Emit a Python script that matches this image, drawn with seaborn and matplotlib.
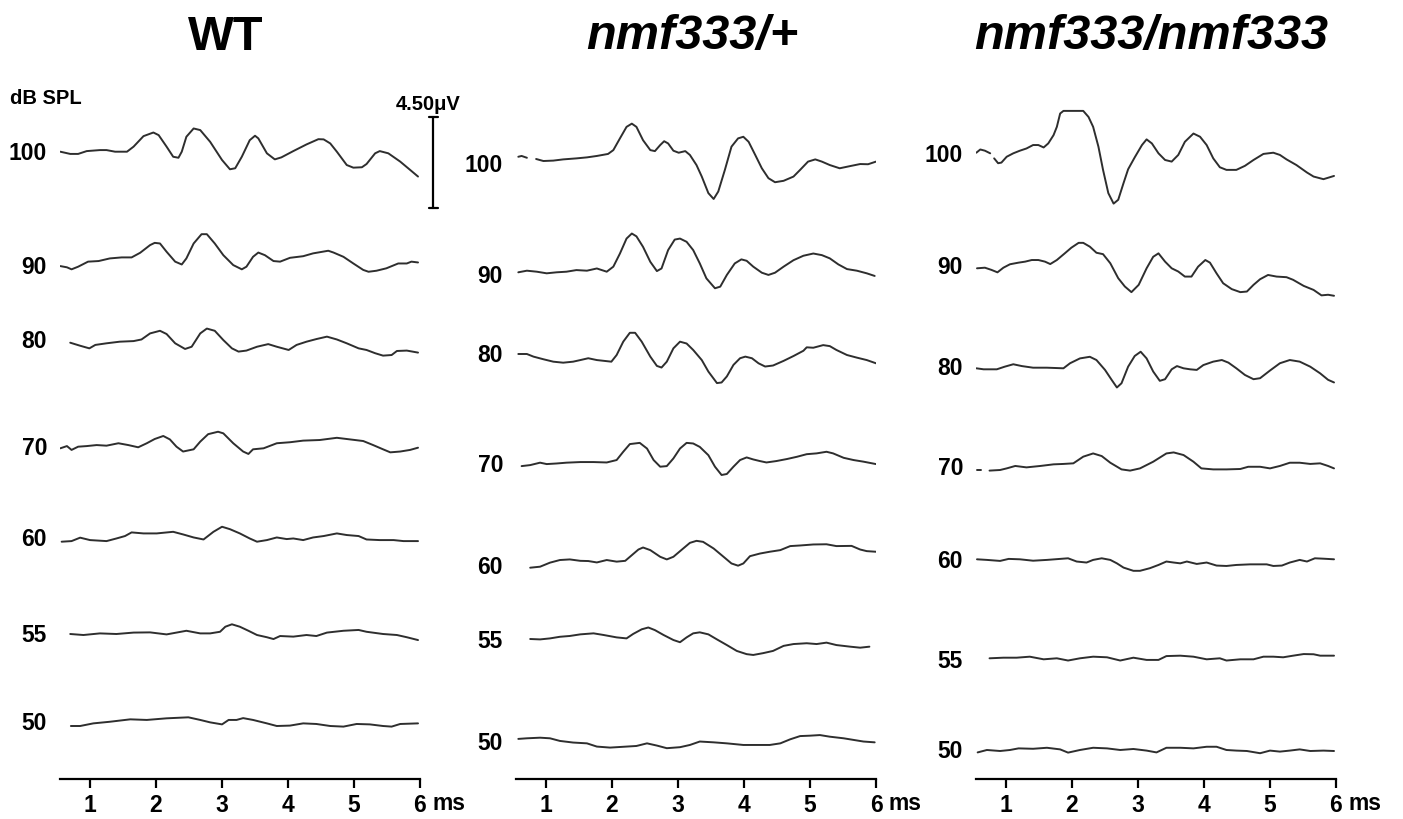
import numpy as np
import pandas as pd
import matplotlib
matplotlib.use("Agg")
import matplotlib.pyplot as plt
import seaborn as sns

nan = np.nan

# ------------------------------------------------------------------ data
levels = [100, 90, 80, 70, 60, 55, 50]            # dB SPL
genotypes = ["WT", "nmf333/+", "nmf333/nmf333"]
ticks_ms = [1, 2, 3, 4, 5, 6]
scale_uv = 4.50                                   # scale bar (µV)

# WT  (time in ms, amplitude in µV relative to trace baseline)
t_wt_100 = [0.55,0.70,0.82,0.95,1.15,1.25,1.38,1.56,1.66,1.81,1.96,2.04,2.16,2.26,2.34,2.39,2.46,2.57,2.67,2.82,3.00,3.12,3.20,3.30,3.42,3.50,3.55,3.68,3.80,3.90,4.08,4.28,4.46,4.54,4.64,4.74,4.89,4.99,5.12,5.19,5.32,5.39,5.52,5.70,5.85,5.97]
uv_wt_100 = [0,-0.11,-0.11,0.03,0.08,0.08,0,0,0.25,0.77,0.95,0.82,0.25,-0.25,-0.30,0,0.74,1.15,1.07,0.49,-0.41,-0.87,-0.82,-0.25,0.57,0.79,0.66,-0.08,-0.38,-0.28,0.03,0.36,0.62,0.61,0.41,0,-0.66,-0.79,-0.77,-0.61,-0.08,0.03,-0.08,-0.49,-0.90,-1.23]
t_wt_90 = [0.55,0.65,0.72,0.82,0.97,1.13,1.30,1.48,1.63,1.76,1.91,1.98,2.06,2.16,2.29,2.39,2.46,2.57,2.69,2.77,2.89,3.02,3.17,3.30,3.37,3.47,3.55,3.65,3.78,3.88,4.03,4.23,4.38,4.61,4.69,4.84,4.99,5.14,5.22,5.34,5.49,5.67,5.80,5.87,5.97]
uv_wt_90 = [0.03,-0.03,-0.13,0,0.25,0.28,0.41,0.46,0.46,0.69,1.07,1.18,1.15,0.74,0.25,0.11,0.41,1.15,1.61,1.61,1.15,0.57,0.08,-0.13,0,0.49,0.70,0.57,0.28,0.25,0.44,0.52,0.66,0.79,0.70,0.49,0.16,-0.16,-0.25,-0.20,-0.08,0.16,0.16,0.25,0.21]
t_wt_80 = [0.70,0.85,0.99,1.08,1.25,1.45,1.66,1.78,1.91,2.06,2.16,2.29,2.44,2.54,2.67,2.77,2.89,3.02,3.15,3.25,3.37,3.53,3.70,3.83,4.01,4.13,4.28,4.43,4.59,4.74,4.89,5.07,5.19,5.32,5.44,5.57,5.65,5.80,5.97]
uv_wt_80 = [0,-0.15,-0.28,-0.11,-0.03,0.05,0.08,0.16,0.46,0.59,0.43,-0.03,-0.31,-0.20,0.46,0.70,0.59,0.13,-0.28,-0.44,-0.39,-0.20,-0.07,-0.20,-0.36,-0.11,0.05,0.18,0.30,0.16,-0.03,-0.28,-0.36,-0.52,-0.64,-0.61,-0.41,-0.39,-0.49]
t_wt_70 = [0.55,0.65,0.72,0.82,0.95,1.10,1.25,1.43,1.58,1.73,1.86,1.98,2.11,2.21,2.31,2.41,2.57,2.67,2.79,2.94,3.02,3.17,3.32,3.40,3.47,3.63,3.83,4.03,4.23,4.48,4.74,4.94,5.14,5.29,5.44,5.55,5.70,5.85,5.97]
uv_wt_70 = [0,0.11,-0.08,0.08,0.11,0.16,0.13,0.25,0.16,0.05,0.25,0.46,0.61,0.44,0.08,-0.16,-0.05,0.33,0.70,0.82,0.74,0.25,-0.16,-0.28,-0.05,0,0.25,0.30,0.38,0.41,0.52,0.44,0.36,0.16,-0.05,-0.20,-0.16,-0.08,0.03]
t_wt_60 = [0.57,0.72,0.85,1.00,1.25,1.40,1.53,1.63,1.81,2.01,2.26,2.41,2.57,2.72,2.87,3.00,3.12,3.27,3.42,3.53,3.68,3.83,3.98,4.08,4.23,4.38,4.54,4.74,4.89,5.07,5.19,5.39,5.60,5.75,5.97]
uv_wt_60 = [0,0.03,0.20,0.08,0.03,0.16,0.28,0.46,0.41,0.41,0.49,0.36,0.21,0.11,0.49,0.74,0.62,0.41,0.16,0,0.08,0.21,0.13,0.16,0.08,0.21,0.28,0.41,0.33,0.28,0.11,0.08,0.08,0.03,0.03]
t_wt_55 = [0.70,0.90,1.15,1.40,1.66,1.91,2.16,2.46,2.67,2.82,2.97,3.05,3.15,3.27,3.40,3.53,3.68,3.78,3.88,4.08,4.28,4.43,4.59,4.84,5.07,5.19,5.44,5.65,5.80,5.97]
uv_wt_55 = [0,-0.05,0.03,0,0.07,0.08,-0.02,0.16,0.03,0.03,0.11,0.36,0.48,0.36,0.16,-0.05,-0.16,-0.25,-0.10,-0.13,-0.05,-0.10,0.07,0.16,0.20,0.11,0,-0.05,-0.16,-0.30]
t_wt_50 = [0.71,0.85,1.05,1.30,1.61,1.86,2.16,2.49,2.67,2.82,3.00,3.10,3.22,3.32,3.47,3.68,3.83,4.03,4.23,4.43,4.64,4.84,5.04,5.24,5.44,5.57,5.70,5.97]
uv_wt_50 = [0,0,0.13,0.21,0.33,0.30,0.38,0.43,0.30,0.18,0.08,0.30,0.30,0.39,0.30,0.13,0,0.02,0.13,0.10,0,-0.03,0.10,0.08,0,-0.03,0.10,0.13]

# nmf333/+
t_het_100 = [0.58,0.63,0.71,nan,0.85,0.96,1.11,1.26,1.46,1.62,1.77,1.94,2.02,2.12,2.22,2.30,2.37,2.47,2.58,2.65,2.73,2.79,2.85,2.93,3.01,3.11,3.18,3.28,3.36,3.46,3.54,3.61,3.71,3.81,3.91,3.99,4.07,4.17,4.27,4.37,4.47,4.60,4.75,4.85,4.97,5.08,5.18,5.30,5.45,5.61,5.76,5.88,6.00]
uv_het_100 = [0.16,0.20,0.11,nan,0.05,-0.05,-0.03,0.03,0.08,0.13,0.20,0.30,0.49,1.07,1.64,1.80,1.64,0.98,0.49,0.44,0.74,0.93,0.82,0.46,0.36,0.44,0.25,-0.25,-0.82,-1.64,-1.93,-1.56,-0.49,0.66,1.07,1.15,0.90,0.25,-0.41,-0.90,-1.10,-1.03,-0.82,-0.49,-0.08,0.03,-0.08,-0.25,-0.41,-0.30,-0.20,-0.21,-0.08]
t_het_90 = [0.58,0.71,0.86,1.01,1.16,1.31,1.46,1.62,1.77,1.92,2.02,2.12,2.22,2.30,2.37,2.47,2.58,2.68,2.75,2.85,2.95,3.03,3.13,3.23,3.33,3.43,3.56,3.64,3.74,3.86,3.96,4.04,4.14,4.27,4.37,4.47,4.60,4.75,4.90,5.05,5.18,5.30,5.43,5.56,5.71,5.86,5.98]
uv_het_90 = [-0.03,0.05,0,-0.08,-0.03,0,0.08,0.05,0.16,0,0.25,0.90,1.64,1.89,1.75,1.23,0.49,0.03,0.16,1.07,1.59,1.64,1.48,1.07,0.41,-0.33,-0.82,-0.74,-0.16,0.41,0.61,0.54,0.25,-0.05,-0.16,-0.05,0.25,0.57,0.79,0.90,0.82,0.66,0.36,0.13,0.05,-0.08,-0.21]
t_het_80 = [0.58,0.71,0.81,0.96,1.11,1.26,1.41,1.52,1.64,1.77,1.99,2.07,2.17,2.27,2.35,2.45,2.58,2.68,2.75,2.83,2.93,3.03,3.13,3.23,3.36,3.46,3.59,3.66,3.74,3.84,3.94,4.02,4.12,4.22,4.32,4.44,4.60,4.75,4.90,4.95,5.05,5.20,5.30,5.40,5.56,5.71,5.86,6.00]
uv_het_80 = [0,0,-0.13,-0.26,-0.38,-0.43,-0.38,-0.30,-0.21,-0.30,-0.38,-0.05,0.61,1.05,1.05,0.61,-0.13,-0.59,-0.67,-0.38,0.28,0.61,0.52,0.20,-0.30,-0.87,-1.44,-1.41,-1.11,-0.54,-0.21,-0.13,-0.21,-0.46,-0.62,-0.57,-0.34,-0.10,0.16,0.33,0.31,0.44,0.39,0.20,-0.05,-0.18,-0.30,-0.46]
t_het_70 = [0.63,0.76,0.91,1.01,1.16,1.31,1.52,1.72,1.92,2.07,2.17,2.27,2.42,2.53,2.63,2.73,2.83,2.93,3.03,3.13,3.23,3.33,3.46,3.56,3.66,3.74,3.84,3.94,4.04,4.14,4.24,4.34,4.49,4.65,4.80,4.95,5.10,5.25,5.35,5.51,5.66,5.81,6.00]
uv_het_70 = [-0.02,0.03,0.15,0.08,0.11,0.15,0.18,0.18,0.16,0.28,0.69,1.07,1.13,0.85,0.28,-0.05,-0.02,0.36,0.85,1.13,1.10,0.93,0.52,-0.05,-0.46,-0.41,-0.05,0.28,0.41,0.31,0.23,0.16,0.23,0.33,0.44,0.57,0.61,0.69,0.61,0.39,0.28,0.20,0.08]
t_het_60 = [0.76,0.91,1.06,1.21,1.36,1.52,1.64,1.77,1.92,2.07,2.20,2.30,2.40,2.47,2.58,2.73,2.83,2.93,3.06,3.18,3.28,3.38,3.54,3.69,3.81,3.91,3.99,4.09,4.24,4.39,4.55,4.70,4.85,5.05,5.25,5.40,5.63,5.76,5.86,6.00]
uv_het_60 = [0,0.05,0.25,0.38,0.41,0.34,0.33,0.26,0.38,0.30,0.34,0.62,0.90,1.00,0.87,0.54,0.41,0.54,0.90,1.23,1.33,1.28,0.95,0.54,0.21,0.10,0.21,0.57,0.70,0.79,0.87,1.07,1.10,1.15,1.16,1.07,1.08,0.90,0.82,0.79]
t_het_55 = [0.76,0.91,1.06,1.21,1.36,1.52,1.72,1.87,2.07,2.22,2.32,2.45,2.55,2.65,2.78,2.93,3.03,3.13,3.23,3.33,3.46,3.59,3.74,3.89,4.04,4.14,4.29,4.44,4.60,4.75,4.95,5.10,5.25,5.40,5.61,5.76,5.90]
uv_het_55 = [0,-0.02,0.03,0.11,0.15,0.23,0.28,0.20,0.08,0.03,0.25,0.48,0.57,0.44,0.20,-0.05,-0.16,0.08,0.28,0.33,0.23,-0.02,-0.30,-0.59,-0.75,-0.79,-0.70,-0.59,-0.34,-0.25,-0.21,-0.25,-0.18,-0.30,-0.38,-0.43,-0.38]
t_het_50 = [0.58,0.71,0.91,1.06,1.21,1.41,1.62,1.77,1.97,2.22,2.37,2.53,2.68,2.83,3.03,3.18,3.33,3.54,3.74,3.99,4.19,4.39,4.55,4.70,4.85,5.00,5.15,5.30,5.51,5.66,5.81,5.98]
uv_het_50 = [-0.03,0,0.03,0,-0.13,-0.21,-0.25,-0.41,-0.46,-0.41,-0.38,-0.25,-0.36,-0.49,-0.44,-0.33,-0.16,-0.20,-0.25,-0.33,-0.33,-0.33,-0.25,-0.05,0.11,0.13,0.16,0.08,0,-0.08,-0.16,-0.20]

# nmf333/nmf333
t_hom_100 = [0.55,0.61,0.68,0.76,nan,0.82,0.88,0.93,1.01,1.11,1.21,1.31,1.41,1.49,1.57,1.64,1.72,1.77,1.82,1.87,2.02,2.17,2.25,2.32,2.40,2.47,2.55,2.63,2.70,2.78,2.85,2.95,3.06,3.13,3.21,3.31,3.41,3.51,3.61,3.71,3.84,3.94,4.04,4.14,4.24,4.34,4.49,4.62,4.75,4.90,5.05,5.15,5.25,5.40,5.56,5.66,5.81,5.91,5.97]
uv_hom_100 = [-0.05,0.11,0.05,-0.08,nan,-0.33,-0.57,-0.54,-0.25,-0.08,0.05,0.16,0.33,0.33,0.21,0.41,0.82,1.23,1.89,2.02,2.02,2.02,1.72,1.23,0.25,-0.90,-2.05,-2.57,-2.38,-1.56,-0.87,-0.28,0.33,0.61,0.41,-0.08,-0.41,-0.49,-0.16,0.49,0.90,0.74,0.33,-0.33,-0.77,-0.90,-0.90,-0.70,-0.41,-0.11,-0.05,-0.16,-0.38,-0.66,-1.03,-1.23,-1.36,-1.26,-1.20]
t_hom_90 = [0.56,0.68,0.78,0.87,0.96,1.06,1.19,1.29,1.39,1.49,1.59,1.67,1.77,1.89,1.99,2.10,2.17,2.27,2.37,2.47,2.58,2.70,2.80,2.90,3.01,3.13,3.23,3.31,3.41,3.51,3.61,3.71,3.81,3.91,4.02,4.09,4.19,4.29,4.42,4.55,4.65,4.75,4.85,4.97,5.10,5.25,5.35,5.51,5.66,5.78,5.88,5.97]
uv_hom_90 = [0,0.03,-0.08,-0.20,0.03,0.20,0.28,0.33,0.41,0.41,0.33,0.21,0.41,0.74,1.02,1.26,1.26,1.07,0.77,0.70,0.25,-0.49,-0.90,-1.18,-0.82,0,0.57,0.74,0.33,0,-0.16,-0.41,-0.41,0.08,0.41,0.28,-0.25,-0.74,-1.03,-1.18,-1.15,-0.82,-0.54,-0.33,-0.41,-0.44,-0.57,-0.87,-1.07,-1.34,-1.31,-1.36]
t_hom_80 = [0.55,0.66,0.86,0.98,1.11,1.24,1.41,1.62,1.87,1.97,2.12,2.27,2.37,2.50,2.60,2.68,2.75,2.85,2.95,3.04,3.13,3.23,3.33,3.41,3.51,3.59,3.69,3.79,3.89,3.99,4.14,4.27,4.37,4.49,4.62,4.75,4.85,5.00,5.15,5.30,5.45,5.61,5.76,5.88,5.97]
uv_hom_80 = [0,-0.05,-0.05,0.08,0.20,0.11,0.03,0.03,0,0.25,0.49,0.57,0.41,-0.08,-0.57,-0.95,-0.74,0.08,0.61,0.82,0.49,-0.16,-0.62,-0.54,-0.05,0.11,0,-0.05,-0.08,0.16,0.33,0.41,0.28,0,-0.33,-0.54,-0.49,-0.11,0.25,0.41,0.33,0.08,-0.25,-0.57,-0.70]
t_hom_70 = [0.56,0.62,nan,0.75,0.91,1.01,1.14,1.31,1.52,1.72,1.87,2.02,2.17,2.32,2.45,2.58,2.75,2.88,3.03,3.23,3.43,3.54,3.69,3.84,3.96,4.14,4.34,4.55,4.67,4.85,5.00,5.15,5.30,5.45,5.61,5.76,5.88,5.97]
uv_hom_70 = [0,0,nan,-0.03,0,0.08,0.20,0.13,0.20,0.28,0.30,0.33,0.66,0.82,0.69,0.36,0.03,-0.03,0.08,0.41,0.82,0.87,0.74,0.41,0.08,0.03,0.03,0.05,0.16,0.16,0.08,0.20,0.36,0.36,0.30,0.33,0.20,0.08]
t_hom_60 = [0.56,0.71,0.91,1.04,1.21,1.41,1.62,1.82,1.94,2.07,2.22,2.32,2.45,2.58,2.68,2.78,2.93,3.03,3.18,3.31,3.43,3.54,3.64,3.74,3.89,4.04,4.19,4.34,4.49,4.70,4.95,5.05,5.18,5.30,5.45,5.56,5.68,5.81,5.97]
uv_hom_60 = [0,-0.03,-0.08,0.02,0,-0.07,-0.03,0.02,0.05,-0.11,-0.16,-0.03,0.05,-0.03,-0.20,-0.41,-0.57,-0.57,-0.44,-0.28,-0.11,-0.16,-0.20,-0.11,-0.23,-0.16,-0.31,-0.33,-0.28,-0.25,-0.25,-0.33,-0.31,-0.16,-0.03,-0.11,0.05,0.03,0]
t_hom_55 = [0.75,0.96,1.16,1.36,1.57,1.77,1.94,2.12,2.32,2.53,2.73,2.93,3.13,3.31,3.43,3.64,3.84,4.04,4.24,4.34,4.55,4.75,4.90,5.05,5.20,5.35,5.51,5.66,5.76,5.97]
uv_hom_55 = [0,0.03,0.03,0.08,-0.05,0,-0.11,0,0.08,0.05,-0.11,0.03,-0.08,-0.08,0.11,0.13,0.08,-0.05,0,-0.11,-0.05,-0.05,0.08,0.08,0.05,0.13,0.21,0.20,0.13,0.13]
t_hom_50 = [0.57,0.71,0.91,1.06,1.19,1.41,1.62,1.82,1.94,2.12,2.32,2.53,2.73,2.93,3.13,3.28,3.43,3.64,3.84,4.04,4.19,4.34,4.49,4.65,4.85,5.00,5.15,5.30,5.45,5.61,5.81,5.97]
uv_hom_50 = [-0.07,0.05,0,0.05,0.13,0.11,0.16,0.08,-0.08,0.05,0.16,0.13,0.05,0.10,0.02,-0.07,0.16,0.16,0.13,0.21,0.21,0.05,0.02,0,-0.11,0.02,-0.03,0.02,0.08,0,0.02,0]

traces = {
    "WT": [(t_wt_100, uv_wt_100), (t_wt_90, uv_wt_90), (t_wt_80, uv_wt_80), (t_wt_70, uv_wt_70),
           (t_wt_60, uv_wt_60), (t_wt_55, uv_wt_55), (t_wt_50, uv_wt_50)],
    "nmf333/+": [(t_het_100, uv_het_100), (t_het_90, uv_het_90), (t_het_80, uv_het_80), (t_het_70, uv_het_70),
                 (t_het_60, uv_het_60), (t_het_55, uv_het_55), (t_het_50, uv_het_50)],
    "nmf333/nmf333": [(t_hom_100, uv_hom_100), (t_hom_90, uv_hom_90), (t_hom_80, uv_hom_80), (t_hom_70, uv_hom_70),
                      (t_hom_60, uv_hom_60), (t_hom_55, uv_hom_55), (t_hom_50, uv_hom_50)],
}

# ------------------------------------------------------------------ layout (pixels of the 1403x819 canvas)
FIG_W, FIG_H = 1403, 819
AX_LEFT_PX = {"WT": 60, "nmf333/+": 516, "nmf333/nmf333": 976}
AX_W_PX = 360
AX_TOP_PX, AX_BOT_PX = 85, 779
PX_PER_UV = 20.2
XLIM = (0.545, 6.0)
BASE_PX = {
    "WT": [151.7, 266.7, 342.7, 448.3, 541.7, 634, 726],
    "nmf333/+": [160, 271.7, 354, 465.7, 567.7, 639, 738.3],
    "nmf333/nmf333": [151.7, 268.3, 368.3, 470, 559.3, 658.3, 751],
}
LABEL_PX = {
    "WT": [153, 268, 341.7, 448.3, 540, 635, 723],
    "nmf333/+": [165, 277, 356, 466, 568, 642, 743],
    "nmf333/nmf333": [155, 268, 369, 469, 561, 661, 752],
}
TITLE_X_PX = {"WT": 226, "nmf333/+": 692, "nmf333/nmf333": 1151}
TRACE_COLOR = "#2e2e2e"
FS = 16.5


def row(px):
    """pixel row -> µV coordinate of the panel axes"""
    return (AX_BOT_PX - px) / PX_PER_UV


# long table of all trace points, split into continuous segments
records = []
for g in genotypes:
    for lvl, (tt, vv), base in zip(levels, traces[g], BASE_PX[g]):
        seg = 0
        for t, v in zip(tt, vv):
            if np.isnan(t):
                seg += 1
                continue
            records.append({"genotype": g, "level": lvl, "unit": f"{lvl}-{seg}",
                            "t": t, "uv": v + row(base)})
df = pd.DataFrame(records)

sns.set_theme(style="ticks")
plt.rcParams["font.family"] = ["Liberation Sans", "DejaVu Sans"]
plt.rcParams["text.color"] = "black"
plt.rcParams["xtick.color"] = "black"
plt.rcParams["xtick.labelcolor"] = "black"

fig = plt.figure(figsize=(FIG_W / 100, FIG_H / 100), dpi=100)
fig.patch.set_facecolor("white")

for g in genotypes:
    ax = fig.add_axes([AX_LEFT_PX[g] / FIG_W, 1 - AX_BOT_PX / FIG_H,
                       AX_W_PX / FIG_W, (AX_BOT_PX - AX_TOP_PX) / FIG_H])
    sub = df[df["genotype"] == g]
    sns.lineplot(data=sub, x="t", y="uv", units="unit", estimator=None, sort=False,
                 color=TRACE_COLOR, linewidth=1.4, ax=ax, legend=False)
    for line in ax.get_lines():
        line.set_solid_joinstyle("round")
    ax.set_xlim(*XLIM)
    ax.set_ylim(0, row(AX_TOP_PX))
    ax.set_xlabel("")
    ax.set_ylabel("")
    ax.set_yticks([])
    ax.set_facecolor("none")
    for s in ["left", "top", "right"]:
        ax.spines[s].set_visible(False)
    ax.spines["bottom"].set_linewidth(1.6)
    ax.spines["bottom"].set_color("black")
    ax.set_xticks(ticks_ms)
    ax.set_xticklabels([str(t) for t in ticks_ms], fontweight="bold", color="black")
    ax.tick_params(axis="x", direction="out", length=6.5, width=1.6, pad=4.5,
                   labelsize=FS, colors="black")
    ax.text(6.44, -0.036, "ms", transform=ax.get_xaxis_transform(), ha="center",
            va="center", fontsize=FS, fontweight="bold", color="black", clip_on=False)

    # dB labels
    for lvl, lp in zip(levels, LABEL_PX[g]):
        ax.text(XLIM[0] - 13 / 66, row(lp), str(lvl), ha="right", va="center",
                fontsize=FS, fontweight="bold", color="black", clip_on=False)

    # genotype title
    fig.text(TITLE_X_PX[g] / FIG_W, 1 - 37 / FIG_H, g, ha="center", va="center",
             fontsize=35, fontweight="bold", color="black",
             fontstyle="normal" if g == "WT" else "italic")

    if g == "WT":
        ax.text(-0.21, row(98), "dB SPL", ha="left", va="center", fontsize=14.5,
                fontweight="bold", color="black", clip_on=False)
        # scale bar
        xb = 6.20
        y0 = row(207.7)
        y1 = y0 + scale_uv
        ax.plot([xb, xb], [y0, y1], color="black", lw=1.6, clip_on=False)
        for yy in (y0, y1):
            ax.plot([xb - 0.07, xb + 0.07], [yy, yy], color="black", lw=1.6, clip_on=False)
        ax.text(6.12, row(104), "4.50\u03bcV", ha="center", va="center", fontsize=14.5,
                fontweight="bold", color="black", clip_on=False)

fig.savefig("out.png", dpi=100, facecolor="white")
